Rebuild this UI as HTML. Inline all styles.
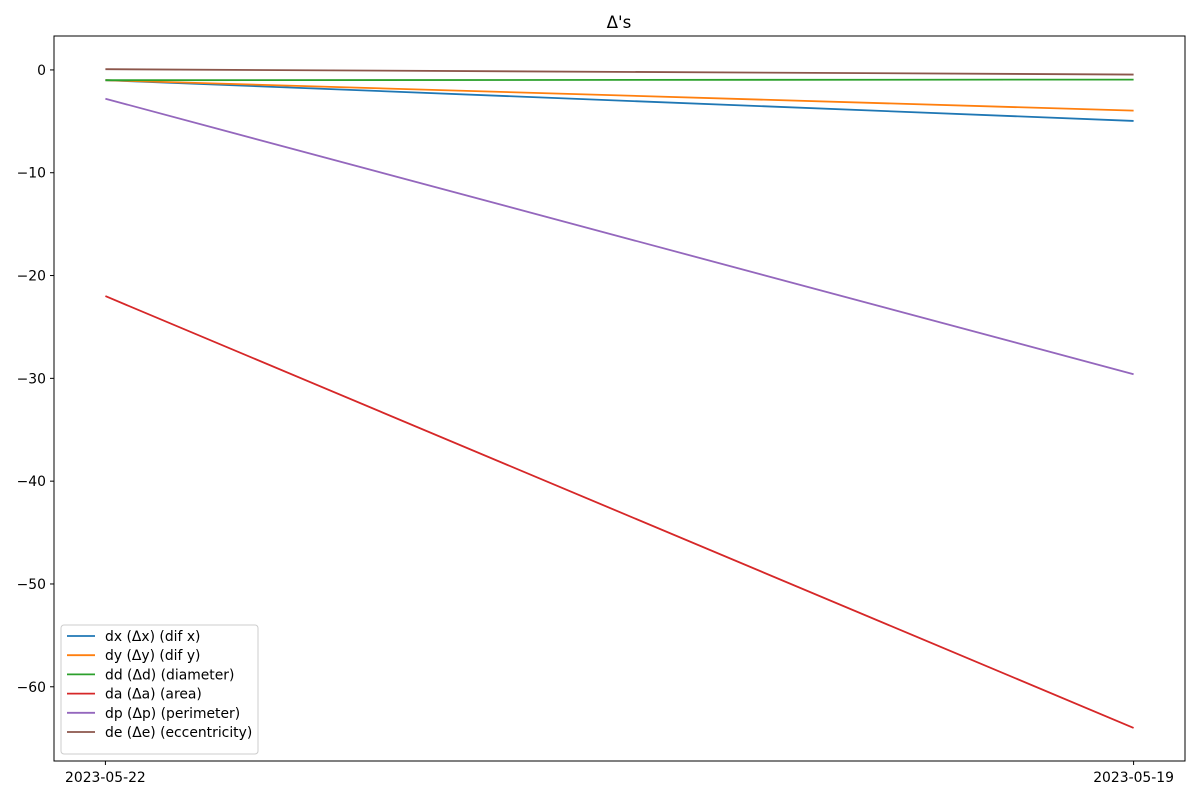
<!DOCTYPE html>
<html><head><meta charset="utf-8"><style>
body{margin:0;background:#fff;font-family:"Liberation Sans","DejaVu Sans",sans-serif}
svg text{font-family:"DejaVu Sans","Liberation Sans",sans-serif}
</style></head><body>
<svg id="chart" width="1200" height="800" xmlns="http://www.w3.org/2000/svg">
<rect width="1200" height="800" fill="#fff"/>
<text x="619" y="28" font-size="16.7" text-anchor="middle">Δ's</text>
<g id="grid"></g>
<g id="lines"></g>
<rect x="54" y="36" width="1131" height="725" fill="none" stroke="#000" stroke-width="1"/>
<g id="legend"></g>
</svg>
<script>
const categories = ["2023-05-22", "2023-05-19"];
const seriesNames = ["dx (Δx) (dif x)", "dy (Δy) (dif y)", "dd (Δd) (diameter)", "da (Δa) (area)", "dp (Δp) (perimeter)", "de (Δe) (eccentricity)"];
const dxValues = [-1.0, -4.96];
const dyValues = [-1.0, -3.96];
const ddValues = [-1.0, -0.94];
const daValues = [-22.0, -64.0];
const dpValues = [-2.8, -29.6];
const deValues = [0.07, -0.45];
const yTicks = [0, -10, -20, -30, -40, -50, -60];
const colors = ["#1f77b4", "#ff7f0e", "#2ca02c", "#d62728", "#9467bd", "#8c564b"];
const allSeries = [dxValues, dyValues, ddValues, daValues, dpValues, deValues];

const L = 54, R = 1185, T = 36, B = 761;
const xMin = -0.05, xMax = 1.05, yMin = -67.22, yMax = 3.3;
const xs = i => L + (i - xMin) / (xMax - xMin) * (R - L);
const ys = v => B - (v - yMin) / (yMax - yMin) * (B - T);
const NS = "http://www.w3.org/2000/svg";
const mk = (tag, attrs, parent) => { const e = document.createElementNS(NS, tag); for (const k in attrs) e.setAttribute(k, attrs[k]); parent.appendChild(e); return e; };

const grid = document.getElementById('grid');
yTicks.forEach(t => {
  const y = ys(t);
  const tk = mk('line', {x1: L - 4, x2: L, y1: y, y2: y, stroke: '#000'}, grid);
  
  
  const tx = mk('text', {x: L - 8, y: y + 5, 'font-size': 13.9, 'text-anchor': 'end'}, grid);
  tx.textContent = (t < 0 ? '−' + Math.abs(t) : String(t));
  
  
});
categories.forEach((c, i) => {
  const x = xs(i);
  const tk = mk('line', {x1: x, x2: x, y1: B, y2: B + 4, stroke: '#000'}, grid);
  
  
  const tx = mk('text', {x: x, y: B + 21, 'font-size': 13.9, 'text-anchor': 'middle'}, grid);
  tx.textContent = c;
  
  
});

const lines = document.getElementById('lines');
allSeries.forEach((vals, s) => {
  const pts = vals.map((v, i) => xs(i) + ',' + ys(v)).join(' ');
  const pl = mk('polyline', {points: pts, fill: 'none', stroke: colors[s], 'stroke-width': 1.8}, lines);
  
  
});

const lg = document.getElementById('legend');
const box = mk('rect', {x: 61, y: 625, width: 197, height: 129, rx: 3, fill: '#fff', stroke: '#ccc'}, lg);


seriesNames.forEach((n, s) => {
  const y = 636 + s * 19.2;
  const ln = mk('line', {x1: 67, x2: 95, y1: y, y2: y, stroke: colors[s], 'stroke-width': 1.8}, lg);
  
  
  const tx = mk('text', {x: 105, y: y + 5, 'font-size': 13.9}, lg);
  tx.textContent = n;
  
  
});
</script>
</body></html>
